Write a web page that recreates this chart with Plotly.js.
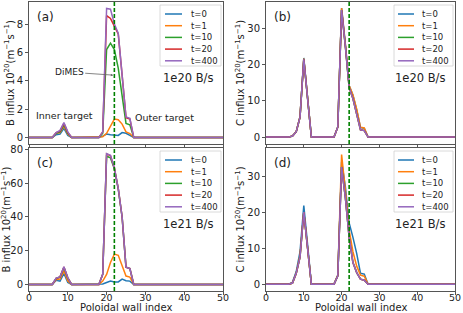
<!DOCTYPE html>
<html><head><meta charset="utf-8">
<script src="https://cdn.plot.ly/plotly-3.0.1.min.js"></script>
<style>html,body{margin:0;padding:0;background:#fff}#chart{width:463px;height:313px}</style>
</head><body><div id="chart"></div>
<script>
// ---------- data ----------
const wallIndex = [0,1,2,3,4,5,6,7,8,9,10,11,12,13,14,15,16,17,18,19,20,21,22,23,24,25,26,27,28,29,30,31,32,33,34,35,36,37,38,39,40,41,42,43,44,45,46,47,48,49,50];
const seriesNames = ['t=0','t=1','t=10','t=20','t=400'];
const seriesColors = ['#1f77b4','#ff7f0e','#2ca02c','#d62728','#9467bd'];
const dimesIndex = 22;
const xTicks = [0,10,20,30,40,50];

// (a) B influx, 1e20 B/s
const bInflux20_t0   = [0,0,0,0,0,0, 0,0.2,0.25,0.65,0.15,0, 0,0,0,0,0,0,0, 0.1,0.25,0.2,0.2,0.15,0.35,0.3,0.15, 0, 0,0,0,0,0,0,0,0,0,0,0,0,0,0,0,0,0,0,0,0,0,0,0];
const bInflux20_t1   = [0,0,0,0,0,0, 0,0.3,0.35,0.8,0.25,0, 0,0,0,0,0,0,0, 0.05,0.3,0.85,1.3,1.25,0.95,0.4,0.28, 0, 0,0,0,0,0,0,0,0,0,0,0,0,0,0,0,0,0,0,0,0,0,0,0];
const bInflux20_t10  = [0,0,0,0,0,0, 0,0.3,0.4,0.9,0.3,0, 0,0,0,0,0,0,0, 0.3,6.2,6.65,6.2,4.9,2.9,1.0,0.9, 0, 0,0,0,0,0,0,0,0,0,0,0,0,0,0,0,0,0,0,0,0,0,0,0];
const bInflux20_t20  = [0,0,0,0,0,0, 0,0.35,0.45,1.0,0.35,0, 0,0,0,0,0,0,0, 0.4,8.6,8.4,7.9,7.3,4.4,1.4,1.3, 0, 0,0,0,0,0,0,0,0,0,0,0,0,0,0,0,0,0,0,0,0,0,0,0];
const bInflux20_t400 = [0,0,0,0,0,0, 0,0.35,0.5,1.05,0.4,0, 0,0,0,0,0,0,0, 0.4,9.1,9.05,8.0,7.35,4.4,1.45,1.35, 0, 0,0,0,0,0,0,0,0,0,0,0,0,0,0,0,0,0,0,0,0,0,0,0];

// (b) C influx, 1e20 B/s
const cInflux20_t0   = [0,0,0,0,0,0, 0,0.3,1.5,5.6,21.8,10.8, 0,0,0,0,0,0,0, 2.8,35.5,25.5,14.2,11.5,7.5,2.6,2.4, 0, 0,0,0,0,0,0,0,0,0,0,0,0,0,0,0,0,0,0,0,0,0,0,0];
const cInflux20_t1   = [0,0,0,0,0,0, 0,0.3,1.5,5.6,21.6,10.8, 0,0,0,0,0,0,0, 2.8,35.5,25.5,14.2,11.6,7.6,2.7,2.5, 0, 0,0,0,0,0,0,0,0,0,0,0,0,0,0,0,0,0,0,0,0,0,0,0];
const cInflux20_t10  = [0,0,0,0,0,0, 0,0.3,1.5,5.5,21.4,10.7, 0,0,0,0,0,0,0, 2.8,35.0,25.0,13.6,10.6,6.5,2.0,1.8, 0, 0,0,0,0,0,0,0,0,0,0,0,0,0,0,0,0,0,0,0,0,0,0,0];
const cInflux20_t20  = [0,0,0,0,0,0, 0,0.3,1.5,5.5,21.4,10.7, 0,0,0,0,0,0,0, 2.8,35.0,25.0,13.6,10.6,6.5,2.0,1.8, 0, 0,0,0,0,0,0,0,0,0,0,0,0,0,0,0,0,0,0,0,0,0,0,0];
const cInflux20_t400 = [0,0,0,0,0,0, 0,0.3,1.5,5.5,21.4,10.7, 0,0,0,0,0,0,0, 2.8,35.0,25.0,13.6,10.6,6.5,2.0,1.8, 0, 0,0,0,0,0,0,0,0,0,0,0,0,0,0,0,0,0,0,0,0,0,0,0];

// (c) B influx, 1e21 B/s
const bInflux21_t0   = [0,0,0,0,0,0, 0,2.5,2.0,6.5,1.2,0, 0,0,0,0,0,0,0, 0.3,1.2,2.0,1.5,1.5,3.2,2.2,2.0, 0, 0,0,0,0,0,0,0,0,0,0,0,0,0,0,0,0,0,0,0,0,0,0,0];
const bInflux21_t1   = [0,0,0,0,0,0, 0,3.0,3.2,8.0,2.0,0, 0,0,0,0,0,0,0, 2.0,6.0,13.0,18.0,17.3,11.0,5.0,4.4, 0, 0,0,0,0,0,0,0,0,0,0,0,0,0,0,0,0,0,0,0,0,0,0,0];
const bInflux21_t10  = [0,0,0,0,0,0, 0,3.6,4.4,10.0,3.8,0, 0,0,0,0,0,0,0, 6.0,76.0,75.0,68.5,56.5,40.0,10.3,9.5, 0, 0,0,0,0,0,0,0,0,0,0,0,0,0,0,0,0,0,0,0,0,0,0,0];
const bInflux21_t20  = [0,0,0,0,0,0, 0,3.7,4.5,10.3,4.0,0, 0,0,0,0,0,0,0, 6.0,77.3,76.3,69.0,57.0,40.0,10.3,9.5, 0, 0,0,0,0,0,0,0,0,0,0,0,0,0,0,0,0,0,0,0,0,0,0,0];
const bInflux21_t400 = [0,0,0,0,0,0, 0,3.8,4.5,10.5,4.0,0, 0,0,0,0,0,0,0, 6.0,77.5,76.5,69.0,57.0,40.0,10.3,9.5, 0, 0,0,0,0,0,0,0,0,0,0,0,0,0,0,0,0,0,0,0,0,0,0,0];

// (d) C influx, 1e21 B/s
const cInflux21_t0   = [0,0,0,0,0,0, 0,0.5,3.5,9.0,21.8,11.0, 0,0,0,0,0,0,0, 2.5,34.0,27.0,17.0,13.0,8.5,3.0,2.8, 0, 0,0,0,0,0,0,0,0,0,0,0,0,0,0,0,0,0,0,0,0,0,0,0];
const cInflux21_t1   = [0,0,0,0,0,0, 0,0.3,3.0,8.0,20.0,10.0, 0,0,0,0,0,0,0, 2.5,36.0,26.0,15.0,9.0,5.0,2.5,2.2, 0, 0,0,0,0,0,0,0,0,0,0,0,0,0,0,0,0,0,0,0,0,0,0,0];
const cInflux21_t10  = [0,0,0,0,0,0, 0,0.3,3.0,7.5,20.0,10.0, 0,0,0,0,0,0,0, 2.3,32.5,24.0,13.0,6.0,3.2,1.4,1.1, 0, 0,0,0,0,0,0,0,0,0,0,0,0,0,0,0,0,0,0,0,0,0,0,0];
const cInflux21_t20  = [0,0,0,0,0,0, 0,0.3,3.0,7.5,20.0,10.0, 0,0,0,0,0,0,0, 2.3,32.5,24.0,13.0,6.0,3.2,1.4,1.1, 0, 0,0,0,0,0,0,0,0,0,0,0,0,0,0,0,0,0,0,0,0,0,0,0];
const cInflux21_t400 = [0,0,0,0,0,0, 0,0.3,3.0,7.5,20.0,10.0, 0,0,0,0,0,0,0, 2.3,32.5,24.0,13.0,6.0,3.2,1.4,1.1, 0, 0,0,0,0,0,0,0,0,0,0,0,0,0,0,0,0,0,0,0,0,0,0,0];

// ---------- layout helpers ----------
const W = 463, H = 313;
const FONT = 'DejaVu Sans, sans-serif';
const TXT = '#222';
const FRAME = '#555';
const px = v => v / W;
const py = v => 1 - v / H;

const panels = [
  {ax:'', series:[bInflux20_t0,bInflux20_t1,bInflux20_t10,bInflux20_t20,bInflux20_t400],
   L:29, R:223, T:2, B:144, yr:[-0.455,9.555], dy:2, label:'(a)', rate:'1e20 B/s', species:'B', showX:false, legL:160, lineL:165, lineR:182, txtL:189},
  {ax:'2', series:[cInflux20_t0,cInflux20_t1,cInflux20_t10,cInflux20_t20,cInflux20_t400],
   L:266, R:455, T:2, B:144, yr:[-1.9,37.2], dy:10, label:'(b)', rate:'1e20 B/s', species:'C', showX:false, legL:394, lineL:398, lineR:414, txtL:420},
  {ax:'3', series:[bInflux21_t0,bInflux21_t1,bInflux21_t10,bInflux21_t20,bInflux21_t400],
   L:29, R:223, T:148, B:291, yr:[-3.85,80.85], dy:20, label:'(c)', rate:'1e21 B/s', species:'B', showX:true, legL:160, lineL:165, lineR:182, txtL:189},
  {ax:'4', series:[cInflux21_t0,cInflux21_t1,cInflux21_t10,cInflux21_t20,cInflux21_t400],
   L:266, R:455, T:148, B:291, yr:[-1.9,37.8], dy:10, label:'(d)', rate:'1e21 B/s', species:'C', showX:true, legL:394, lineL:398, lineR:414, txtL:420}
];

const traces = [];
const layout = {
  width: W, height: H, margin:{l:0,r:0,t:0,b:0},
  paper_bgcolor:'#fff', plot_bgcolor:'#fff', showlegend:false,
  font:{family:FONT, size:10, color:TXT},
  shapes:[], annotations:[]
};

panels.forEach(p => {
  const xa = 'x' + p.ax, ya = 'y' + p.ax;
  p.series.forEach((ys, i) => {
    traces.push({x: wallIndex, y: ys, type:'scatter', mode:'lines', name: seriesNames[i],
      xaxis: xa, yaxis: ya, line:{color: seriesColors[i], width:1.5}, showlegend:false, hoverinfo:'skip'});
  });
  const common = {showline:true, mirror:true, linecolor:FRAME, linewidth:1, ticks:'outside', ticklen:3,
    tickwidth:1, tickcolor:FRAME, showgrid:false, zeroline:false, tickfont:{size:10, color:TXT}};
  layout['xaxis' + p.ax] = Object.assign({}, common, {
    domain:[px(p.L), px(p.R)], range:[0,50], tickvals:xTicks, anchor: ya,
    showticklabels: p.showX, ticklabelstandoff: -5, tickfont:{size:9.5, color:TXT}
  });
  layout['yaxis' + p.ax] = Object.assign({}, common, {
    domain:[py(p.B), py(p.T)], range:p.yr, dtick:p.dy, tick0:0, anchor: xa,
    title:{text: p.species + ' influx 10<sup>20</sup>(m<sup>−1</sup>s<sup>−1</sup>)', font:{size:10, color:TXT}, standoff:0}
  });
  if (p.showX) {
    layout.annotations.push({xref:'paper', yref:'paper', x:px((p.L + p.R) / 2), y:py(307), text:'Poloidal wall index',
      showarrow:false, xanchor:'center', yanchor:'middle', font:{size:10, color:TXT}});
  }
  // DiMES location
  layout.shapes.push({type:'line', xref: xa, yref: ya + ' domain', x0:dimesIndex, x1:dimesIndex, y0:0, y1:1,
    line:{color:'#008000', width:1.6, dash:'4px,2px'}});
  // panel label + rate
  layout.annotations.push({xref:'paper', yref:'paper', x:px(p.L + 16), y:py(p.T + 15), text:p.label,
    showarrow:false, font:{size:12, color:TXT}, xanchor:'center', yanchor:'middle'});
  layout.annotations.push({xref:'paper', yref:'paper', x:px(p.R - 35), y:py(p.T + 76), text:p.rate,
    showarrow:false, font:{size:11.5, color:TXT}, xanchor:'center', yanchor:'middle'});
  // legend box
  layout.shapes.push({type:'rect', xref:'paper', yref:'paper', x0:px(p.legL), x1:px(p.R - 2), y0:py(p.T + 3), y1:py(p.T + 64),
    line:{color:'#d0d0d0', width:0.8}, fillcolor:'rgba(255,255,255,0.85)', layer:'above'});
  seriesNames.forEach((nm, i) => {
    const yy = p.T + 12 + 11.7 * i;
    layout.shapes.push({type:'line', xref:'paper', yref:'paper', x0:px(p.lineL), x1:px(p.lineR), y0:py(yy), y1:py(yy),
      line:{color:seriesColors[i], width:1.5}, layer:'above'});
    layout.annotations.push({xref:'paper', yref:'paper', x:px(p.txtL), y:py(yy), text:nm, showarrow:false,
      xanchor:'left', yanchor:'middle', font:{size:8.5, color:TXT}});
  });
});

// text annotations of panel (a)
layout.annotations.push({xref:'x', yref:'y', x:21.7, y:4.4, ax:-44, ay:-3, text:'DiMES', showarrow:true,
  arrowhead:2, arrowsize:0.6, arrowwidth:0.8, arrowcolor:'#666', font:{size:9, color:TXT}, standoff:0});
layout.annotations.push({xref:'paper', yref:'paper', x:px(64.5), y:py(115), text:'Inner target', showarrow:false,
  xanchor:'center', yanchor:'middle', font:{size:9.5, color:TXT}});
layout.annotations.push({xref:'paper', yref:'paper', x:px(164.5), y:py(117), text:'Outer target', showarrow:false,
  xanchor:'center', yanchor:'middle', font:{size:9.5, color:TXT}});

Plotly.newPlot('chart', traces, layout, {staticPlot:true, displayModeBar:false});
</script>
</body></html>
